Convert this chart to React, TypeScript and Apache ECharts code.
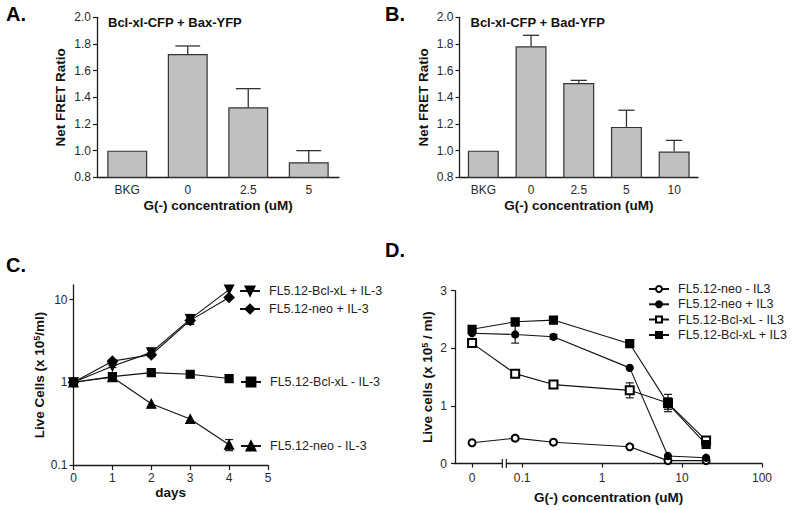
import React, { useEffect, useRef } from 'react';
import * as echarts from 'echarts';

const FONT = '"Liberation Sans", Arial, Helvetica, sans-serif';
const INK = '#1a1a1a';
const LABEL_INK = '#2a2a2a';

// ---------- Panel A: Bcl-xl-CFP + Bax-YFP ----------
const A_CATEGORIES = ['BKG', '0', '2.5', '5'];
const A_MEANS = [1.0, 1.725, 1.325, 0.913];
const A_UPPER = [1.0, 1.785, 1.465, 1.0];

// ---------- Panel B: Bcl-xl-CFP + Bad-YFP ----------
const B_CATEGORIES = ['BKG', '0', '2.5', '5', '10'];
const B_MEANS = [1.0, 1.782, 1.507, 1.178, 0.993];
const B_UPPER = [1.0, 1.865, 1.527, 1.303, 1.077];

// ---------- Panel C: growth over days (log scale) ----------
const C_DAYS = [0, 1, 2, 3, 4];
const C_NAMES = ['FL5.12-Bcl-xL + IL-3', 'FL5.12-neo + IL-3', 'FL5.12-Bcl-xL - IL-3', 'FL5.12-neo - IL-3'];
const C_BCL_PLUS = [1.0, 1.56, 2.3, 5.8, 13.2];
const C_NEO_PLUS = [1.0, 1.8, 2.15, 5.6, 10.6];
const C_BCL_MINUS = [1.0, 1.17, 1.31, 1.25, 1.11];
const C_NEO_MINUS = [1.0, 1.15, 0.55, 0.36, 0.176];
const C_BCL_PLUS_ERR = [0, 0.05, 0.15, 0.8, 0];
const C_NEO_PLUS_ERR = [0, 0.08, 0.12, 0.4, 0];
const C_BCL_MINUS_ERR = [0, 0, 0, 0.1, 0];
const C_NEO_MINUS_ERR = [0, 0, 0, 0, 0.027];
const C_Y_TICKS = [0.1, 1, 10];

// ---------- Panel D: dose response (broken log axis) ----------
const D_CONC = [0, 0.082, 0.247, 2.22, 6.67, 20];
const D_NAMES = ['FL5.12-neo - IL3', 'FL5.12-neo + IL3', 'FL5.12-Bcl-xL - IL3', 'FL5.12-Bcl-xL + IL3'];
const D_NEO_MINUS = [0.36, 0.44, 0.37, 0.29, 0.05, 0.05];
const D_NEO_PLUS = [2.26, 2.24, 2.2, 1.66, 0.13, 0.1];
const D_BCL_MINUS = [2.09, 1.56, 1.37, 1.27, 1.05, 0.4];
const D_BCL_PLUS = [2.33, 2.46, 2.49, 2.08, 1.04, 0.33];
const D_NEO_MINUS_ERR = [0, 0, 0, 0, 0, 0];
const D_NEO_PLUS_ERR = [0.02, 0.15, 0.04, 0, 0, 0];
const D_BCL_MINUS_ERR = [0.02, 0.05, 0.02, 0.13, 0.15, 0.03];
const D_BCL_PLUS_ERR = [0.06, 0.05, 0.05, 0.06, 0.1, 0];
// the "0" concentration sits left of the axis break, at this position on the log axis
const D_ZERO_POSITION = 0.0237;
const D_BREAK_POSITION = 0.06;
const D_X_TICKS = [D_ZERO_POSITION, 0.1, 1, 10, 100];

const axisLine = { show: true, onZero: false, lineStyle: { color: INK, width: 1.3 } };
const labelStyle = { fontFamily: FONT, fontSize: 12, color: LABEL_INK };
const nameStyle = { fontFamily: FONT, fontSize: 13.5, fontWeight: 'bold' as const, color: '#111' };

function barErrorSeries(axisIdx: number, means: number[], upper: number[], capFrac: number) {
  return {
    type: 'custom',
    xAxisIndex: axisIdx,
    yAxisIndex: axisIdx,
    z: 5,
    clip: false,
    data: means.map((m, i) => [i, m, upper[i]]),
    renderItem: (_p: any, api: any) => {
      const lo = api.coord([api.value(0), api.value(1)]);
      const hi = api.coord([api.value(0), api.value(2)]);
      if (lo[1] - hi[1] < 0.5) return null;
      const half = api.size([1, 0])[0] * capFrac;
      const st = { stroke: '#333', lineWidth: 1.3 };
      return {
        type: 'group',
        children: [
          { type: 'line', shape: { x1: lo[0], y1: lo[1], x2: hi[0], y2: hi[1] }, style: st },
          { type: 'line', shape: { x1: hi[0] - half, y1: hi[1], x2: hi[0] + half, y2: hi[1] }, style: st },
        ],
      };
    },
  };
}

function pointErrorSeries(axisIdx: number, xs: number[], ys: number[], errs: number[]) {
  const data: number[][] = [];
  ys.forEach((y, i) => {
    if (errs[i] > 0) data.push([xs[i], y - errs[i], y + errs[i]]);
  });
  return {
    type: 'custom',
    xAxisIndex: axisIdx,
    yAxisIndex: axisIdx,
    z: 1,
    clip: false,
    data,
    renderItem: (_p: any, api: any) => {
      const lo = api.coord([api.value(0), api.value(1)]);
      const hi = api.coord([api.value(0), api.value(2)]);
      const half = 4;
      const st = { stroke: INK, lineWidth: 1.2 };
      return {
        type: 'group',
        children: [
          { type: 'line', shape: { x1: lo[0], y1: lo[1], x2: hi[0], y2: hi[1] }, style: st },
          { type: 'line', shape: { x1: lo[0] - half, y1: lo[1], x2: lo[0] + half, y2: lo[1] }, style: st },
          { type: 'line', shape: { x1: hi[0] - half, y1: hi[1], x2: hi[0] + half, y2: hi[1] }, style: st },
        ],
      };
    },
  };
}

function lineSeries(axisIdx: number, name: string, xs: number[], ys: number[], symbol: string, size: number, rotate = 0) {
  return {
    type: 'line',
    name,
    xAxisIndex: axisIdx,
    yAxisIndex: axisIdx,
    clip: false,
    z: 3,
    data: xs.map((x, i) => [x, ys[i]]),
    symbol,
    symbolSize: size,
    symbolRotate: rotate,
    showAllSymbol: true,
    color: '#000',
    itemStyle: { color: '#000', borderColor: '#000', borderWidth: 1.2 },
    lineStyle: { color: '#111', width: 1.1 },
  };
}

function singleLegend(name: string, left: number, centerY: number, itemHeight: number) {
  return {
    data: [name],
    left,
    top: centerY - 7,
    padding: 0,
    itemWidth: 20,
    itemHeight,
    selectedMode: false,
    textStyle: { fontFamily: FONT, fontSize: 12.5, color: '#222', lineHeight: 14, padding: [0, 0, 0, 4] },
  };
}

const dX = (c: number) => (c === 0 ? D_ZERO_POSITION : c);

function buildOption(extraGraphic: any[]) {
  const D_XS = D_CONC.map(dX);
  return {
    animation: false,
    backgroundColor: '#fff',
    textStyle: { fontFamily: FONT },
    grid: [
      { left: 97, top: 17.3, width: 242, height: 160, outerBoundsMode: 'none' },
      { left: 459.5, top: 17.3, width: 238.5, height: 160, outerBoundsMode: 'none' },
      { left: 73.5, top: 285, width: 194.5, height: 180, outerBoundsMode: 'none' },
      { left: 455, top: 290.7, width: 307, height: 172.8, outerBoundsMode: 'none' },
    ],
    xAxis: [
      {
        type: 'category', gridIndex: 0, data: A_CATEGORIES,
        axisLine, axisTick: { show: false }, axisLabel: { ...labelStyle, margin: 7 },
        name: 'G(-) concentration (uM)', nameLocation: 'middle', nameGap: 21, nameTextStyle: nameStyle,
      },
      {
        type: 'category', gridIndex: 1, data: B_CATEGORIES,
        axisLine, axisTick: { show: false }, axisLabel: { ...labelStyle, margin: 7 },
        name: 'G(-) concentration (uM)', nameLocation: 'middle', nameGap: 21, nameTextStyle: nameStyle,
      },
      {
        type: 'value', gridIndex: 2, min: 0, max: 5, interval: 1,
        axisLine, axisTick: { show: true, length: 5, lineStyle: { color: INK, width: 1.2 } },
        axisLabel: { ...labelStyle, margin: 7 }, splitLine: { show: false },
        name: 'days', nameLocation: 'middle', nameGap: 20, nameTextStyle: nameStyle,
      },
      {
        type: 'log', gridIndex: 3, logBase: 10, min: 0.0145, max: 100,
        axisLine,
        axisTick: { show: true, length: 4, customValues: D_X_TICKS, lineStyle: { color: INK, width: 1.2 } },
        axisLabel: {
          ...labelStyle, margin: 8, customValues: D_X_TICKS,
          formatter: (v: number) => {
            if (Math.abs(v - D_ZERO_POSITION) < 1e-6) return '0';
            return D_X_TICKS.some((t) => Math.abs(t - v) / t < 1e-6) ? String(v) : '';
          },
        },
        splitLine: { show: false }, minorTick: { show: false },
        name: 'G(-) concentration (uM)', nameLocation: 'middle', nameGap: 27, nameTextStyle: nameStyle,
      },
    ],
    yAxis: [
      {
        type: 'value', gridIndex: 0, min: 0.8, max: 2.0, interval: 0.2,
        axisLine, axisTick: { show: true, length: 4, lineStyle: { color: INK, width: 1.2 } },
        axisLabel: { ...labelStyle, margin: 6, formatter: (v: number) => v.toFixed(1) },
        splitLine: { show: false },
        name: 'Net FRET Ratio', nameLocation: 'middle', nameGap: 30, nameTextStyle: nameStyle,
      },
      {
        type: 'value', gridIndex: 1, min: 0.8, max: 2.0, interval: 0.2,
        axisLine, axisTick: { show: true, length: 4, lineStyle: { color: INK, width: 1.2 } },
        axisLabel: { ...labelStyle, margin: 6, formatter: (v: number) => v.toFixed(1) },
        splitLine: { show: false },
        name: 'Net FRET Ratio', nameLocation: 'middle', nameGap: 29, nameTextStyle: nameStyle,
      },
      {
        type: 'log', gridIndex: 2, logBase: 10, min: 0.1, max: 15,
        axisLine,
        axisTick: { show: true, length: 4, customValues: C_Y_TICKS, lineStyle: { color: INK, width: 1.2 } },
        axisLabel: {
          ...labelStyle, margin: 6, customValues: C_Y_TICKS,
          formatter: (v: number) => (C_Y_TICKS.some((t) => Math.abs(t - v) / t < 1e-6) ? String(v) : ''),
        },
        splitLine: { show: false }, minorTick: { show: false },
        name: 'Live Cells (x 10{sup|5}/ml)', nameLocation: 'middle', nameGap: 26,
        nameTextStyle: { ...nameStyle, rich: { sup: { fontFamily: FONT, fontSize: 9, fontWeight: 'bold', color: '#111', verticalAlign: 'top', lineHeight: 10 } } },
      },
      {
        type: 'value', gridIndex: 3, min: 0, max: 3, interval: 1,
        axisLine, axisTick: { show: true, length: 4, lineStyle: { color: INK, width: 1.2 } },
        axisLabel: { ...labelStyle, margin: 8 }, splitLine: { show: false },
        name: 'Live cells (x 10{sup|5} / ml)', nameLocation: 'middle', nameGap: 21,
        nameTextStyle: { ...nameStyle, rich: { sup: { fontFamily: FONT, fontSize: 9, fontWeight: 'bold', color: '#111', verticalAlign: 'top', lineHeight: 10 } } },
      },
    ],
    legend: [
      singleLegend(C_NAMES[0], 239, 291, 11),
      singleLegend(C_NAMES[1], 239, 309, 11),
      singleLegend(C_NAMES[2], 240, 382, 11),
      singleLegend(C_NAMES[3], 240, 446, 11),
      singleLegend(D_NAMES[0], 648, 289, 7.5),
      singleLegend(D_NAMES[1], 648, 304.3, 7.5),
      singleLegend(D_NAMES[2], 648, 319.5, 7.5),
      singleLegend(D_NAMES[3], 648, 335, 7.5),
    ],
    series: [
      {
        type: 'bar', xAxisIndex: 0, yAxisIndex: 0, data: A_MEANS, barWidth: '66%',
        itemStyle: { color: '#c0c0c0', borderColor: '#333', borderWidth: 1.2 },
      },
      barErrorSeries(0, A_MEANS, A_UPPER, 0.205),
      {
        type: 'bar', xAxisIndex: 1, yAxisIndex: 1, data: B_MEANS, barWidth: '65%',
        itemStyle: { color: '#c0c0c0', borderColor: '#333', borderWidth: 1.2 },
      },
      barErrorSeries(1, B_MEANS, B_UPPER, 0.17),

      pointErrorSeries(2, C_DAYS, C_BCL_PLUS, C_BCL_PLUS_ERR),
      pointErrorSeries(2, C_DAYS, C_NEO_PLUS, C_NEO_PLUS_ERR),
      pointErrorSeries(2, C_DAYS, C_BCL_MINUS, C_BCL_MINUS_ERR),
      pointErrorSeries(2, C_DAYS, C_NEO_MINUS, C_NEO_MINUS_ERR),
      lineSeries(2, C_NAMES[0], C_DAYS, C_BCL_PLUS, 'triangle', 9, 180),
      lineSeries(2, C_NAMES[1], C_DAYS, C_NEO_PLUS, 'diamond', 10),
      lineSeries(2, C_NAMES[2], C_DAYS, C_BCL_MINUS, 'rect', 8),
      lineSeries(2, C_NAMES[3], C_DAYS, C_NEO_MINUS, 'triangle', 9),

      pointErrorSeries(3, D_XS, D_NEO_MINUS, D_NEO_MINUS_ERR),
      pointErrorSeries(3, D_XS, D_NEO_PLUS, D_NEO_PLUS_ERR),
      pointErrorSeries(3, D_XS, D_BCL_MINUS, D_BCL_MINUS_ERR),
      pointErrorSeries(3, D_XS, D_BCL_PLUS, D_BCL_PLUS_ERR),
      lineSeries(3, D_NAMES[0], D_XS, D_NEO_MINUS, 'emptyCircle', 7),
      lineSeries(3, D_NAMES[1], D_XS, D_NEO_PLUS, 'circle', 7),
      lineSeries(3, D_NAMES[2], D_XS, D_BCL_MINUS, 'emptyRect', 8),
      lineSeries(3, D_NAMES[3], D_XS, D_BCL_PLUS, 'rect', 8),
    ],
    graphic: [
      { type: 'text', x: 6, y: 14, style: { text: 'A.', font: `bold 20px ${FONT}`, fill: '#000', verticalAlign: 'middle' } },
      { type: 'text', x: 385, y: 14, style: { text: 'B.', font: `bold 20px ${FONT}`, fill: '#000', verticalAlign: 'middle' } },
      { type: 'text', x: 6, y: 265, style: { text: 'C.', font: `bold 20px ${FONT}`, fill: '#000', verticalAlign: 'middle' } },
      { type: 'text', x: 385, y: 250, style: { text: 'D.', font: `bold 20px ${FONT}`, fill: '#000', verticalAlign: 'middle' } },
      { type: 'text', x: 108, y: 22, style: { text: 'Bcl-xl-CFP + Bax-YFP', font: `bold 13px ${FONT}`, fill: '#111', verticalAlign: 'middle' } },
      { type: 'text', x: 470.5, y: 22, style: { text: 'Bcl-xl-CFP + Bad-YFP', font: `bold 13px ${FONT}`, fill: '#111', verticalAlign: 'middle' } },
      ...extraGraphic,
    ],
  };
}

export default function App() {
  const ref = useRef<HTMLDivElement>(null);
  useEffect(() => {
    if (!ref.current) return;
    const chart = echarts.init(ref.current, undefined, { renderer: 'svg' });
    chart.setOption(buildOption([]) as any);
    // axis-break mark on panel D's x axis, placed through the axis scale
    const bx = chart.convertToPixel({ xAxisIndex: 3 } as any, D_BREAK_POSITION) as unknown as number;
    const by = chart.convertToPixel({ yAxisIndex: 3 } as any, 0) as unknown as number;
    const extra: any[] = [];
    if (typeof bx === 'number' && typeof by === 'number' && isFinite(bx) && isFinite(by)) {
      extra.push(
        { type: 'rect', shape: { x: bx - 2, y: by - 2, width: 4, height: 4 }, style: { fill: '#fff' }, z: 100 },
        { type: 'line', shape: { x1: bx - 2, y1: by - 4.5, x2: bx - 2, y2: by + 4.5 }, style: { stroke: INK, lineWidth: 1.2 }, z: 101 },
        { type: 'line', shape: { x1: bx + 2, y1: by - 4.5, x2: bx + 2, y2: by + 4.5 }, style: { stroke: INK, lineWidth: 1.2 }, z: 101 },
      );
    }
    chart.setOption(buildOption(extra) as any, true);
    return () => chart.dispose();
  }, []);
  return <div ref={ref} style={{ position: 'absolute', left: 0, top: 0, width: 800, height: 510 }} />;
}
